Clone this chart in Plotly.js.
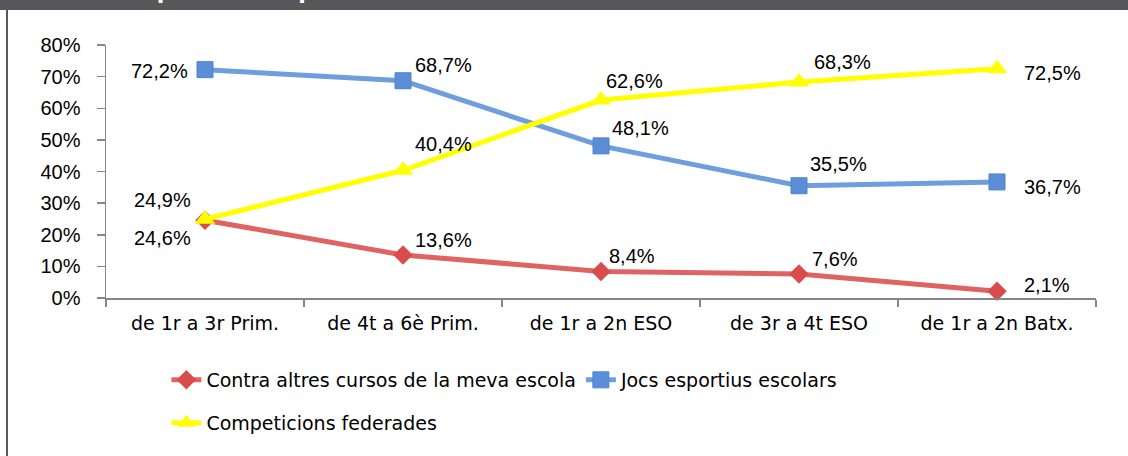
<!DOCTYPE html>
<html>
<head>
<meta charset="utf-8">
<script src="https://cdn.plot.ly/plotly-3.0.1.min.js"></script>
<style>html,body{margin:0;padding:0;background:#fff;}#chart{width:1128px;height:456px;}</style>
</head>
<body>
<div id="chart"></div>
<script>
const categories = ["de 1r a 3r Prim.", "de 4t a 6è Prim.", "de 1r a 2n ESO", "de 3r a 4t ESO", "de 1r a 2n Batx."];
const seriesNames = ["Contra altres cursos de la meva escola", "Jocs esportius escolars", "Competicions federades"];
const contraAltres = [24.6, 13.6, 8.4, 7.6, 2.1];
const jocsEsportius = [72.2, 68.7, 48.1, 35.5, 36.7];
const competicions = [24.9, 40.4, 62.6, 68.3, 72.5];
const yTickValues = [0, 10, 20, 30, 40, 50, 60, 70, 80];
const titleText = "Gràfic 7. Tipus de competició en funció del curs";

// label placement (style only): [xshift, yshift, xanchor]
const redLabelPos = [[-12,-18,'right'],[10,15,'left'],[6,15,'left'],[11,15,'left'],[25,6,'left']];
const blueLabelPos = [[-15,-1,'right'],[10,16,'left'],[9,18,'left'],[9,22,'left'],[25,-5,'left']];
const yellowLabelPos = [[-12,19,'right'],[10,26,'left'],[3,19,'left'],[13,20,'left'],[25,-4,'left']];

const fmt = v => v.toFixed(1).replace('.', ',') + '%';
const numFont = {family: 'Liberation Sans, Arial, sans-serif', size: 20, color: '#000'};
const txtFont = {family: 'DejaVu Sans, sans-serif', size: 19, color: '#000'};

const traces = [
  {x: categories, y: contraAltres, name: seriesNames[0], type: 'scatter', mode: 'lines+markers',
   line: {color: '#e06363', width: 5}, marker: {symbol: 'diamond', size: 15, color: '#d94c4c', line: {color: '#d94c4c', width: 0}},
   legend: 'legend', cliponaxis: false},
  {x: categories, y: jocsEsportius, name: seriesNames[1], type: 'scatter', mode: 'lines+markers',
   line: {color: '#6e9edd', width: 5}, marker: {symbol: 'square', size: 16, color: '#5b8ed6', line: {color: '#4f84cf', width: 1}},
   legend: 'legend', cliponaxis: false},
  {x: categories, y: competicions, name: seriesNames[2], type: 'scatter', mode: 'lines+markers',
   line: {color: '#ffff00', width: 5}, marker: {symbol: 'triangle-up', size: 18, color: '#ffff00'},
   legend: 'legend2', cliponaxis: false}
];

const annotations = [];
function addLabels(vals, pos) {
  vals.forEach((v, i) => {
    annotations.push({x: categories[i], y: v, xref: 'x', yref: 'y', text: fmt(v), showarrow: false,
      xanchor: pos[i][2], yanchor: 'middle', xshift: pos[i][0], yshift: pos[i][1], font: numFont});
  });
}
addLabels(contraAltres, redLabelPos);
addLabels(jocsEsportius, blueLabelPos);
addLabels(competicions, yellowLabelPos);

// title text (clipped by the top of the page as in the reference)
annotations.push({xref: 'paper', yref: 'paper', x: (20-106)/990, y: (298-6)/253, xanchor: 'left', yanchor: 'bottom',
  text: '<b>' + titleText + '</b>', showarrow: false, font: {family: 'DejaVu Sans, sans-serif', size: 22, color: '#ffffff'}});

const layout = {
  width: 1128, height: 456,
  margin: {l: 106, r: 32, t: 45, b: 158, pad: 0},
  paper_bgcolor: '#ffffff', plot_bgcolor: '#ffffff',
  showlegend: true,
  xaxis: {type: 'category', range: [-0.5, 4.5], showline: true, linecolor: '#868686', linewidth: 1.5,
    ticks: 'outside', tickson: 'boundaries', ticklen: 7, tickcolor: '#868686', tickwidth: 1.5,
    showgrid: false, zeroline: false, tickfont: txtFont, ticklabelstandoff: 8, fixedrange: true},
  yaxis: {range: [0, 80], tickvals: yTickValues, ticktext: yTickValues.map(v => v + '%'),
    showline: true, linecolor: '#868686', linewidth: 1.5, ticks: 'outside', ticklen: 8, tickcolor: '#868686', tickwidth: 1.5,
    showgrid: false, zeroline: false, tickfont: {family: 'Liberation Sans, Arial, sans-serif', size: 20, color: '#000'},
    ticklabelstandoff: 12, fixedrange: true},
  legend: {orientation: 'h', x: 0.061, y: (298-380)/253, xanchor: 'left', yanchor: 'middle',
    font: txtFont, bgcolor: 'rgba(0,0,0,0)', borderwidth: 0, tracegroupgap: 0},
  legend2: {orientation: 'h', x: 0.061, y: (298-423)/253, xanchor: 'left', yanchor: 'middle',
    font: txtFont, bgcolor: 'rgba(0,0,0,0)', borderwidth: 0},
  annotations: annotations,
  shapes: [
    {type: 'rect', xref: 'paper', yref: 'paper', x0: -106/990, x1: 1022/990, y0: (298-10)/253, y1: 298/253 + 0.05,
     fillcolor: '#58585a', line: {width: 0}, layer: 'below'},
    {type: 'line', xref: 'paper', yref: 'paper', x0: (7-106)/990, x1: (7-106)/990, y0: (298-460)/253, y1: (298-10)/253,
     line: {color: '#595959', width: 2}}
  ]
};

Plotly.newPlot('chart', traces, layout, {displayModeBar: false, staticPlot: true});
</script>
</body>
</html>
